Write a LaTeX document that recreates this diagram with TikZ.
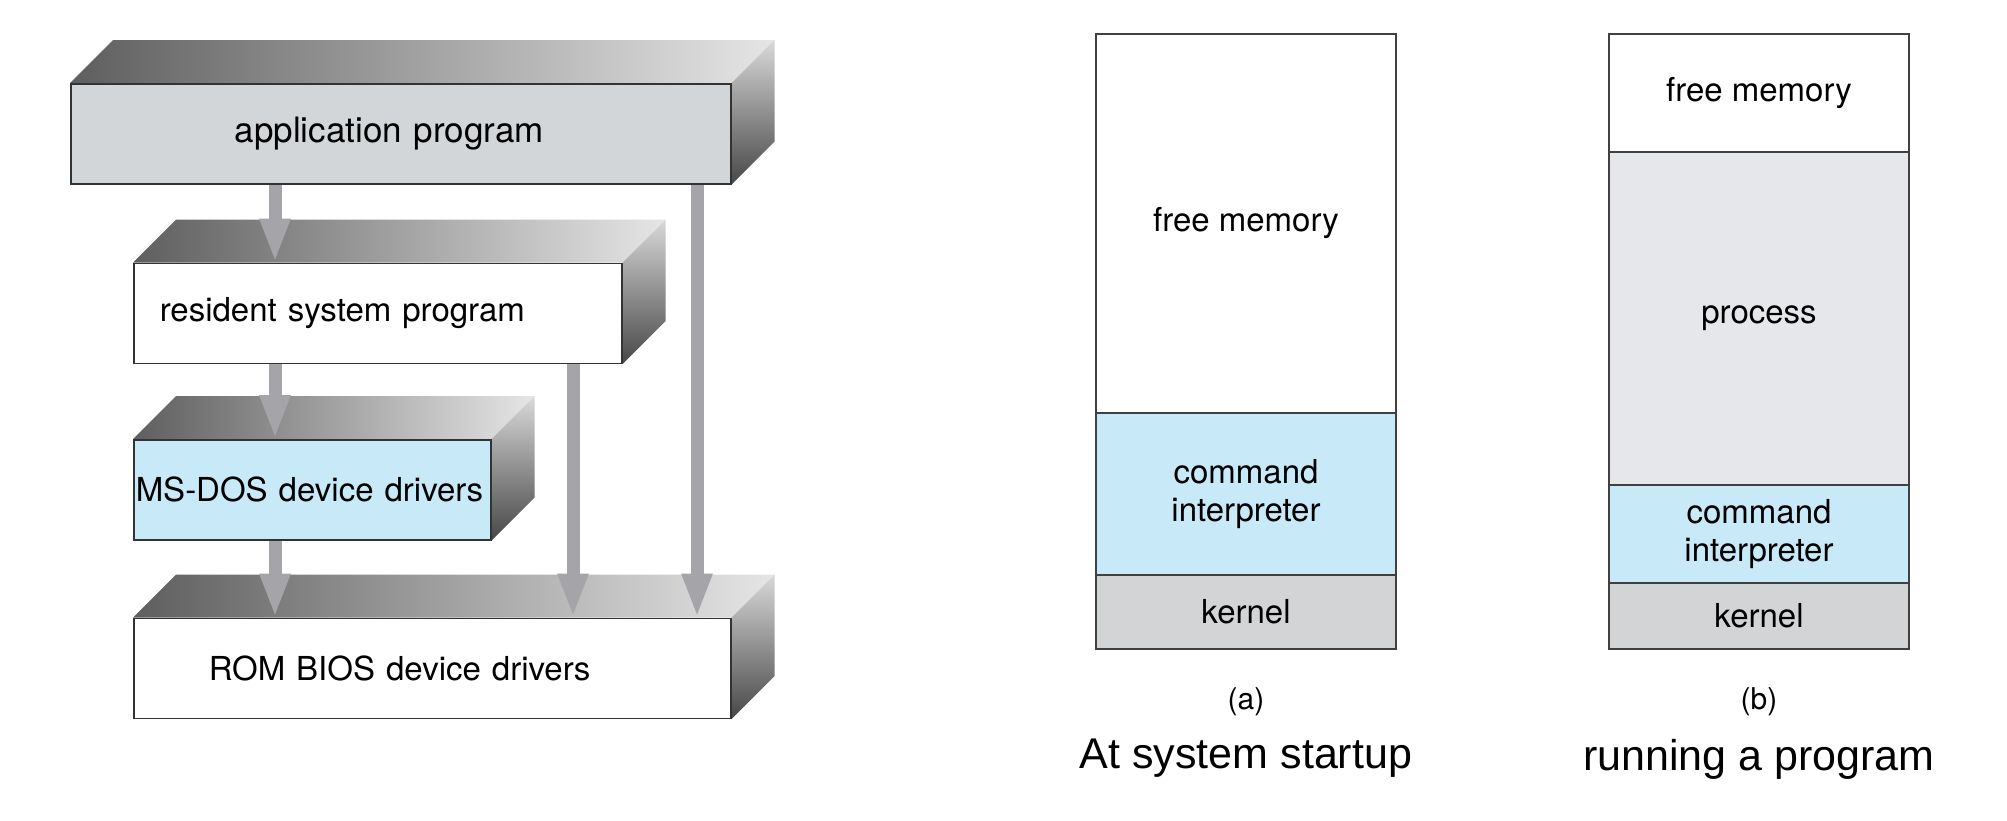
\documentclass[tikz,border=0pt]{standalone}
\usepackage{fontspec}
\setmainfont{TeX Gyre Heros}
\newfontfamily\capfont{Liberation Sans}
\usepackage{tikz}
\usetikzlibrary{positioning, arrows.meta, backgrounds}

\definecolor{cmdblue}{RGB}{200,233,248}
\definecolor{kernelgray}{RGB}{211,212,214}
\definecolor{procgray}{RGB}{229,231,234}
\definecolor{appgray}{RGB}{211,214,217}
\definecolor{arrowgray}{RGB}{165,165,169}

\tikzstyle{block} = [rectangle, draw=black!80, line width=1.5pt, align=left, minimum height=100pt, inner ysep=0pt, font=\fontsize{33}{38}\selectfont]
\tikzstyle{mem} = [rectangle, draw=black!75, line width=1.5pt, minimum width=300pt, inner sep=0pt, outer sep=0pt, align=center, font=\fontsize{33}{38}\selectfont]
\tikzstyle{arrow} = [line width=13pt, draw=arrowgray, -{Triangle[width=28pt,length=44pt]}]
\tikzstyle{topface} = [left color=black!63, right color=black!10, draw=none]
\tikzstyle{sideface} = [top color=black!15, bottom color=black!72, draw=none]

% top and right faces of a slab
\newcommand{\blockfaces}[1]{%
  \shade[topface] (#1.north west) -- ++(43,-43) -- ([shift={(43,-43)}]#1.north east) -- (#1.north east) -- cycle;
  \shade[sideface] (#1.north east) -- ++(43,-43) -- ([shift={(43,-43)}]#1.south east) -- (#1.south east) -- cycle;
}

\begin{document}
\begin{tikzpicture}[x=1pt, y=-1pt]
\useasboundingbox (0,0) rectangle (2007,820);

% MS-DOS layers
\node[block, fill=appgray, text width=332pt, inner xsep=164pt, font=\fontsize{35}{40}\selectfont, anchor=north west] (app) at (70,83) {application program};
\node[block, fill=white, text width=436pt, inner xsep=26pt, below right=78pt and 63pt of app.south west] (resident) {resident system program};
\node[block, fill=cmdblue, text width=353pt, inner xsep=2pt, below right=75pt and 0pt of resident.south west] (msdos) {MS-DOS device drivers};
\node[block, fill=white, text width=447pt, inner xsep=75pt, below right=77pt and 0pt of msdos.south west] (rombios) {ROM BIOS device drivers};

\begin{scope}[on background layer]
\blockfaces{app}
\blockfaces{resident}
\blockfaces{msdos}
\blockfaces{rombios}
\end{scope}

\draw[arrow] ([xshift=205pt]app.south west) -- ([xshift=205pt]app.south west |- resident.north);
\draw[arrow] ([xshift=142pt]resident.south west) -- ([xshift=142pt]resident.south west |- msdos.north);
\draw[arrow] ([xshift=142pt]msdos.south west) -- ([xshift=142pt]msdos.south west |- rombios.north);
\draw[arrow] ([xshift=440pt]resident.south west) -- ([xshift=440pt]resident.south west |- rombios.north);
\draw[arrow] ([xshift=627pt]app.south west) -- ([xshift=627pt]app.south west |- rombios.north);

% memory at system startup
\node[mem, fill=white, minimum height=379pt, anchor=north west] (freeA) at (1096,34) {free memory};
\node[mem, fill=cmdblue, minimum height=162pt, below=0pt of freeA] (cmdA) {command\\interpreter};
\node[mem, fill=kernelgray, minimum height=74pt, below=0pt of cmdA] (kernelA) {kernel};

% memory running a program
\node[mem, fill=white, minimum height=118pt, anchor=north west] (freeB) at (1609,34) {free memory};
\node[mem, fill=procgray, minimum height=333pt, below=0pt of freeB] (procB) {process};
\node[mem, fill=cmdblue, minimum height=98pt, below=0pt of procB] (cmdB) {command\\interpreter};
\node[mem, fill=kernelgray, minimum height=66pt, below=0pt of cmdB] (kernelB) {kernel};

% captions
\node[inner sep=0pt, font=\fontsize{30}{34}\selectfont, below=38pt of kernelA] (labA) {(a)};
\node[inner sep=0pt, font=\fontsize{30}{34}\selectfont, below=38pt of kernelB] (labB) {(b)};
\node[inner sep=0pt, font=\capfont\fontsize{43}{48}\selectfont, below=23pt of labA] (capA) {At system startup};
\node[inner sep=0pt, font=\capfont\fontsize{43}{48}\selectfont, below=23pt of labB] (capB) {running a program};

\end{tikzpicture}
\end{document}
